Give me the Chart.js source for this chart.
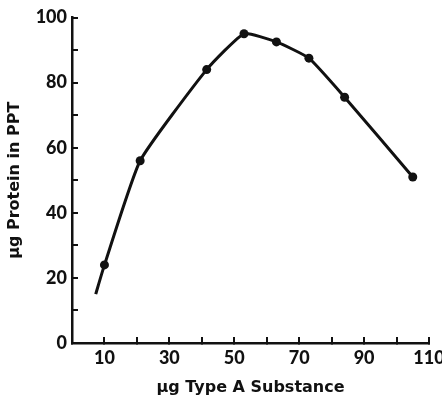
<!DOCTYPE html>
<html>
<head>
<meta charset="utf-8">
<title>Protein in PPT vs Type A Substance</title>
<script src="https://cdn.jsdelivr.net/npm/chart.js@4.4.1/dist/chart.umd.min.js"></script>
<style>
  html, body { margin: 0; padding: 0; background: #fff; }
  canvas { display: block; }
</style>
</head>
<body>
<canvas id="chart" width="442" height="397"></canvas>
<script>
// data (first point is where the drawn curve begins, no marker)
var substance = [7.3, 10, 21, 41.5, 53, 63, 73, 84, 105];
var protein   = [15, 24, 56, 84, 95, 92.5, 87.5, 75.5, 51];

// tick labels that are printed
var xTickLabels = [10, 30, 50, 70, 90, 110];
var yTickLabels = [0, 20, 40, 60, 80, 100];

var ink = '#111';
var tickFont = { family: 'Lato', weight: '900', size: 18 };
var titleFont = { family: 'DejaVu Sans', weight: 'bold', size: 16 };

var points = substance.map(function (x, i) {
    return { x: x, y: protein[i] };
});

var ctx = document.getElementById('chart').getContext('2d');
var chart = new Chart(ctx, {
    type: 'line',
    data: {
        datasets: [{
            data: points,
            borderColor: ink,
            backgroundColor: ink,
            borderWidth: 3,
            tension: 0.15,
            pointRadius: function (c) { return c.dataIndex === 0 ? 0 : 4.5; },
            pointHoverRadius: 4.5,
            pointBorderWidth: 0,
            fill: false
        }]
    },
    options: {
        responsive: false,
        animation: false,
        devicePixelRatio: 1,
        layout: { padding: { top: 17.5, right: 13, bottom: 0, left: 0 } },
        plugins: {
            legend: { display: false },
            tooltip: { enabled: false }
        },
        scales: {
            x: {
                type: 'linear',
                min: 0,
                max: 110,
                border: { display: true, color: ink, width: 2.5 },
                grid: {
                    drawOnChartArea: false,
                    drawTicks: true,
                    tickLength: -6,
                    color: ink,
                    lineWidth: 2
                },
                ticks: {
                    stepSize: 10,
                    autoSkip: false,
                    maxRotation: 0,
                    padding: 10,
                    color: ink,
                    font: tickFont,
                    callback: function (v) { return xTickLabels.indexOf(v) >= 0 ? String(v) : ''; }
                },
                title: {
                    display: true,
                    text: 'μg Type A Substance',
                    color: ink,
                    font: titleFont,
                    padding: { top: 0, bottom: 0 }
                },
                afterFit: function (scale) {
                    scale.height = 54;
                    scale.paddingLeft = 0;
                    scale.paddingRight = 0;
                }
            },
            y: {
                min: 0,
                max: 100,
                border: { display: true, color: ink, width: 2.5 },
                grid: {
                    drawOnChartArea: false,
                    drawTicks: true,
                    tickLength: -6,
                    color: ink,
                    lineWidth: 2
                },
                ticks: {
                    stepSize: 10,
                    autoSkip: false,
                    padding: 11,
                    color: ink,
                    font: tickFont,
                    callback: function (v) { return yTickLabels.indexOf(v) >= 0 ? String(v) : ''; }
                },
                title: {
                    display: true,
                    text: 'μg Protein in PPT',
                    color: ink,
                    font: titleFont,
                    padding: { top: 5, bottom: 0 }
                },
                afterFit: function (scale) {
                    scale.width = 72;
                    scale.paddingTop = 0;
                    scale.paddingBottom = 0;
                }
            }
        }
    }
});
</script>
</body>
</html>
